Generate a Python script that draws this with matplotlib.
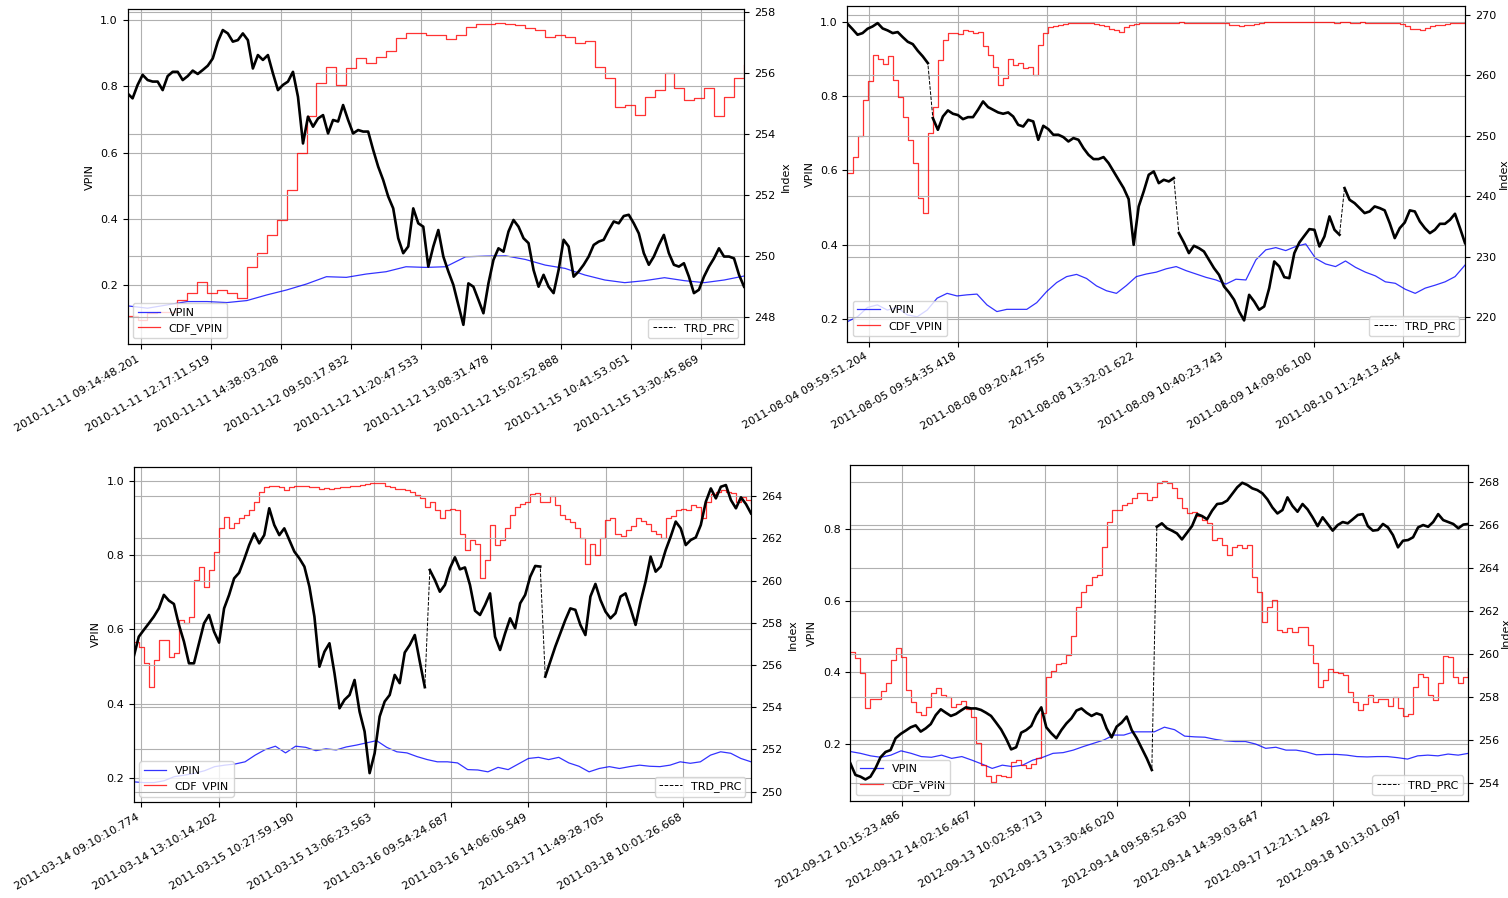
import numpy as np
import matplotlib.pyplot as plt

# ---------------- 2010-11 ----------------
p1_labels = ['2010-11-11 09:14:48.201', '2010-11-11 12:17:11.519', '2010-11-11 14:38:03.208',
             '2010-11-12 09:50:17.832', '2010-11-12 11:20:47.533', '2010-11-12 13:08:31.478',
             '2010-11-12 15:02:52.888', '2010-11-15 10:41:53.051', '2010-11-15 13:30:45.869']
p1_vpin = [0.138, 0.131, 0.141, 0.151, 0.151, 0.148, 0.154, 0.171, 0.186, 0.204, 0.226, 0.224,
           0.234, 0.241, 0.256, 0.254, 0.256, 0.286, 0.288, 0.289, 0.278, 0.261, 0.251, 0.231,
           0.216, 0.208, 0.214, 0.223, 0.214, 0.208, 0.216, 0.228]
p1_cdf = [0.106, 0.095, 0.116, 0.121, 0.121, 0.156, 0.176, 0.211, 0.176, 0.186, 0.176, 0.161,
          0.256, 0.296, 0.352, 0.397, 0.487, 0.598, 0.709, 0.809, 0.859, 0.804, 0.854, 0.884,
          0.869, 0.889, 0.905, 0.945, 0.960, 0.960, 0.955, 0.955,
          0.942, 0.955, 0.978, 0.987, 0.988, 0.990, 0.989, 0.986, 0.976, 0.970, 0.950, 0.955,
          0.950, 0.930, 0.938, 0.859, 0.824, 0.739, 0.744, 0.714, 0.769, 0.789, 0.839, 0.794,
          0.759, 0.764, 0.794, 0.709, 0.769, 0.824, 0.864]
p1_prc = [255.34, 255.18, 255.62, 255.95, 255.78, 255.73, 255.73, 255.45, 255.91, 256.05,
          256.05, 255.78, 255.91, 256.09, 255.98, 256.11, 256.25, 256.49, 257.04, 257.42,
          257.31, 257.04, 257.09, 257.31, 257.09, 256.16, 256.60, 256.44, 256.60, 256.00,
          255.45, 255.62, 255.73, 256.05, 255.23, 253.70, 254.58, 254.25, 254.52, 254.63,
          254.03, 254.47, 254.42, 254.96, 254.47, 254.03, 254.14, 254.09, 254.09, 253.49,
          252.94, 252.50, 251.96, 251.57, 250.59, 250.10, 250.32, 251.57, 251.08, 250.97,
          249.66, 250.32, 250.86,
          249.99, 249.50, 249.06, 248.40, 247.75, 249.11, 249.00, 248.57, 248.13, 249.11,
          249.88, 250.26, 250.15, 250.81, 251.19, 250.97, 250.59, 250.43, 249.55, 249.00,
          249.39, 249.00, 248.79, 249.55, 250.54, 250.32, 249.33, 249.50, 249.72, 249.99,
          250.37, 250.48, 250.54, 250.86, 251.14, 251.08, 251.32, 251.36, 251.08, 250.75,
          250.10, 249.72, 249.99, 250.37, 250.70, 250.10, 249.72, 249.66, 249.77, 249.33,
          248.79, 248.90, 249.33, 249.66, 249.93, 250.26, 249.99, 249.99, 249.93, 249.39,
          249.00]
p1_gaps = []

# ---------------- 2011-08 ----------------
p2_labels = ['2011-08-04 09:59:51.204', '2011-08-05 09:54:35.418', '2011-08-08 09:20:42.755',
             '2011-08-08 13:32:01.622', '2011-08-09 10:40:23.743', '2011-08-09 14:09:06.100',
             '2011-08-10 11:24:13.454']
p2_vpin = [0.193, 0.206, 0.231, 0.238, 0.224, 0.231, 0.211, 0.206, 0.224, 0.256, 0.269, 0.262,
           0.265, 0.267, 0.238, 0.220, 0.226, 0.226, 0.226, 0.244, 0.274, 0.298, 0.314, 0.320,
           0.309, 0.289, 0.276, 0.269, 0.290, 0.314, 0.321,
           0.326, 0.335, 0.341, 0.330, 0.321, 0.312, 0.305, 0.294, 0.307, 0.305, 0.359, 0.386,
           0.392, 0.384, 0.395, 0.402, 0.363, 0.348, 0.341, 0.356, 0.339, 0.326, 0.316, 0.300,
           0.296, 0.280, 0.269, 0.283, 0.291, 0.300, 0.314, 0.345]
p2_cdf = [0.592, 0.637, 0.691, 0.789, 0.839, 0.910, 0.899, 0.886, 0.906, 0.843,
          0.798, 0.744, 0.682, 0.619, 0.525, 0.484, 0.700, 0.771, 0.897, 0.951,
          0.969, 0.970, 0.966, 0.976, 0.975, 0.970, 0.972, 0.933, 0.910, 0.879,
          0.830, 0.848, 0.899, 0.883, 0.888, 0.874, 0.877, 0.857, 0.937, 0.970,
          0.985, 0.988, 0.992, 0.994, 0.996, 0.996, 0.997, 0.997, 0.996, 0.994,
          0.990, 0.987, 0.981, 0.976, 0.973, 0.985, 0.990, 0.994, 0.996, 0.996,
          0.996,
          0.996, 0.997, 0.997, 0.996, 0.997, 0.998, 0.997, 0.996, 0.997, 0.997, 0.996, 0.995,
          0.996, 0.997, 0.996, 0.991, 0.990, 0.989, 0.990, 0.991, 0.993,
          0.997, 0.998, 0.999, 0.999, 0.999, 0.998, 0.999, 0.999, 0.999, 0.998, 0.998, 0.999,
          0.999, 0.998, 0.998, 0.997, 0.998, 0.998, 0.997, 0.997, 0.998, 0.997, 0.996, 0.997,
          0.996, 0.995, 0.996, 0.995, 0.993,
          0.987, 0.981, 0.979, 0.978, 0.982, 0.988, 0.990, 0.992, 0.994, 0.996, 0.997, 0.997,
          1.000]
p2_prc = [268.51, 267.63, 266.70, 266.97, 267.69, 268.07, 268.62, 267.74, 267.41, 266.97,
          267.14, 266.31, 265.54, 265.15, 264.05, 263.12, 262.02, 252.93, 251.00, 253.20,
          254.20, 253.65, 253.43, 252.76, 253.09, 253.09, 254.31, 255.68, 254.75, 254.31,
          253.87, 253.65, 253.87, 253.20, 251.82, 251.54, 252.65, 252.38, 249.35, 251.66,
          251.11, 250.18, 250.18, 249.79, 249.07, 249.63, 249.35, 247.97, 246.87, 246.16,
          246.16, 246.49, 245.50, 244.12, 242.74, 241.37, 239.55, 232.00, 238.34, 240.82,
          243.57,
          244.12, 242.19, 242.74, 242.47, 243.02, 233.93, 232.39, 230.63, 231.84, 231.45,
          230.90, 229.52, 228.15, 227.05, 225.12, 224.13, 222.92, 220.99, 219.51, 223.74,
          222.64, 221.27, 221.82, 224.85, 229.25, 228.43, 226.66, 226.49, 230.63, 232.39,
          233.49, 234.59, 234.48, 231.73, 233.38, 236.69, 234.48, 233.66, 241.37, 239.44,
          238.89, 238.07, 237.24, 237.51, 238.34, 238.07, 237.69, 235.58, 233.11, 234.76,
          235.69, 237.69, 237.51, 235.86, 234.76, 233.93, 234.48, 235.47, 235.47, 236.13,
          237.13, 234.76, 232.28]
p2_gaps = [16, 65, 98]

# ---------------- 2011-03 ----------------
p3_labels = ['2011-03-14 09:10:10.774', '2011-03-14 13:10:14.202', '2011-03-15 10:27:59.190',
             '2011-03-15 13:06:23.563', '2011-03-16 09:54:24.687', '2011-03-16 14:06:06.549',
             '2011-03-17 11:49:28.705', '2011-03-18 10:01:26.668']
p3_vpin = [0.189, 0.187, 0.187, 0.192, 0.203, 0.207, 0.212, 0.219, 0.230, 0.234, 0.237, 0.243,
           0.261, 0.276, 0.285, 0.267, 0.285, 0.282, 0.273, 0.278, 0.275, 0.283, 0.288, 0.294,
           0.300, 0.282, 0.270, 0.267, 0.257, 0.249, 0.243,
           0.243, 0.240, 0.222, 0.221, 0.216, 0.228, 0.222, 0.237, 0.252, 0.255, 0.249, 0.255,
           0.240, 0.231, 0.216, 0.225, 0.230, 0.225, 0.230, 0.234, 0.231, 0.230, 0.234, 0.243,
           0.239, 0.243, 0.261, 0.270, 0.266, 0.252, 0.243]
p3_cdf = [0.566, 0.553, 0.508, 0.445, 0.517, 0.571, 0.571, 0.526, 0.535, 0.625,
          0.616, 0.634, 0.732, 0.768, 0.714, 0.759, 0.809, 0.872, 0.903, 0.872,
          0.885, 0.899, 0.908, 0.921, 0.943, 0.970, 0.982, 0.986, 0.987, 0.982,
          0.975, 0.982, 0.986, 0.987, 0.986, 0.984, 0.982, 0.979, 0.980, 0.978,
          0.980, 0.984, 0.984, 0.987, 0.987, 0.989, 0.991, 0.993, 0.995, 0.993,
          0.986, 0.982, 0.978, 0.977, 0.975, 0.969, 0.961, 0.955, 0.930, 0.943,
          0.921, 0.899,
          0.921, 0.925, 0.921, 0.858, 0.813, 0.840, 0.831, 0.737, 0.786, 0.881,
          0.827, 0.840, 0.872, 0.908, 0.930, 0.937, 0.943, 0.964, 0.966, 0.943,
          0.943, 0.959, 0.934, 0.908, 0.896, 0.890, 0.872, 0.845, 0.777, 0.831,
          0.800, 0.845, 0.894, 0.901, 0.858, 0.851, 0.867, 0.878, 0.901, 0.892,
          0.883, 0.865, 0.856, 0.845, 0.899, 0.905, 0.921, 0.925, 0.921, 0.934,
          0.930, 0.899, 0.943, 0.964, 0.969, 0.975, 0.971, 0.966, 0.943, 0.957,
          0.948, 0.939]
p3_prc = [256.40, 257.34, 257.66, 257.97, 258.29, 258.68, 259.32, 259.05, 258.89, 257.90,
          257.11, 256.08, 256.08, 257.03, 257.97, 258.37, 257.58, 257.06, 258.68, 259.32,
          260.10, 260.37, 261.00, 261.68, 262.23, 261.76, 262.15, 263.42, 262.63, 262.15,
          262.47, 261.92, 261.37, 261.05, 260.66, 259.71, 258.29, 255.92, 256.63, 257.03,
          255.61, 253.95, 254.35, 254.58, 255.29, 253.79, 252.85, 250.88, 251.82, 253.56,
          254.27, 254.58, 255.53, 255.14, 256.59, 256.95, 257.42, 256.16, 254.95, 260.50,
          260.03, 259.47,
          259.79, 260.58, 261.10, 260.53, 260.62, 259.79, 258.57, 258.37, 258.84, 259.39,
          257.34, 256.71, 257.50, 258.21, 257.74, 258.92, 259.32, 260.18, 260.69, 260.66,
          255.45, 256.16, 256.87, 257.50, 258.13, 258.68, 258.61, 257.90, 257.42, 259.24,
          259.84, 259.08, 258.53, 258.21, 258.45, 259.24, 259.39, 258.68, 257.90, 259.00,
          259.95, 261.13, 260.42, 260.66, 261.44, 262.08, 262.79, 262.47, 261.68, 261.92,
          262.04, 262.63, 263.73, 264.36, 263.89, 264.44, 264.52, 263.81, 263.42, 263.94,
          263.62, 263.18]
p3_gaps = [58, 81]

# ---------------- 2012-09 ----------------
p4_labels = ['2012-09-12 10:15:23.486', '2012-09-12 14:02:16.467', '2012-09-13 10:02:58.713',
             '2012-09-13 13:30:46.020', '2012-09-14 09:58:52.630', '2012-09-14 14:39:03.647',
             '2012-09-17 12:21:11.492', '2012-09-18 10:13:01.097']
p4_vpin = [0.179, 0.174, 0.167, 0.163, 0.169, 0.181, 0.174, 0.165, 0.163, 0.169, 0.160, 0.165,
           0.155, 0.144, 0.132, 0.141, 0.137, 0.141, 0.155, 0.163, 0.174, 0.176, 0.183, 0.193,
           0.202, 0.211, 0.225, 0.225, 0.234, 0.234,
           0.234, 0.247, 0.240, 0.222, 0.220, 0.219, 0.213, 0.209, 0.207, 0.207, 0.200, 0.188,
           0.191, 0.183, 0.183, 0.178, 0.170, 0.171, 0.171, 0.169, 0.165, 0.164, 0.165, 0.165,
           0.162, 0.158, 0.167, 0.169, 0.167, 0.172, 0.169, 0.174]
p4_cdf = [0.458, 0.439, 0.397, 0.300, 0.327, 0.325, 0.349, 0.371, 0.434, 0.467,
          0.444, 0.351, 0.318, 0.290, 0.281, 0.304, 0.341, 0.355, 0.337, 0.330,
          0.304, 0.313, 0.321, 0.297, 0.276, 0.202, 0.141, 0.111, 0.095, 0.114,
          0.111, 0.107, 0.151, 0.155, 0.141, 0.132, 0.144, 0.160, 0.286, 0.388,
          0.405, 0.423, 0.427, 0.448, 0.500, 0.583, 0.625, 0.644, 0.667, 0.672,
          0.751, 0.820, 0.853, 0.853, 0.867, 0.873, 0.886, 0.900, 0.900, 0.881,
          0.890, 0.927, 0.935, 0.929, 0.913, 0.886, 0.858, 0.844, 0.846, 0.836,
          0.825, 0.816, 0.769, 0.774, 0.755, 0.727, 0.749, 0.755, 0.746, 0.755,
          0.667, 0.625, 0.541, 0.583, 0.602, 0.518, 0.513, 0.523, 0.513, 0.527,
          0.527, 0.476, 0.425, 0.360, 0.379, 0.408, 0.402, 0.399, 0.393, 0.346,
          0.318, 0.295, 0.313, 0.337, 0.318, 0.327, 0.325, 0.306, 0.332, 0.300,
          0.278, 0.284, 0.360, 0.395, 0.386, 0.337, 0.323, 0.369, 0.446, 0.444,
          0.388, 0.369, 0.388, 0.411]
p4_prc = [254.90, 254.36, 254.28, 254.15, 254.28, 254.67, 255.18, 255.43, 255.52, 256.07,
          256.27, 256.42, 256.58, 256.67, 256.38, 256.53, 256.73, 257.15, 257.42, 257.26,
          257.11, 257.20, 257.36, 257.51, 257.46, 257.46, 257.39, 257.26, 257.11, 256.80,
          256.48, 256.05, 255.55, 255.65, 256.33, 256.45, 256.64, 257.15, 257.51, 256.58,
          256.30, 256.07, 256.45, 256.76, 257.00, 257.36, 257.46, 257.26, 257.11, 257.23,
          257.15, 256.53, 256.11, 256.61, 256.80, 257.08, 256.45, 256.07, 255.60, 255.13,
          254.59, 265.93, 266.09, 265.86, 265.75, 265.62, 265.34, 265.65, 265.96, 266.52,
          266.43, 266.28, 266.68, 266.99, 267.02, 267.15, 267.46, 267.77, 267.98, 267.88,
          267.72, 267.64, 267.49, 267.21, 266.83, 266.55, 266.71, 267.30, 266.90, 266.63,
          266.99, 266.74, 266.37, 265.96, 266.37, 266.06, 265.75, 266.01, 266.15, 266.09,
          266.28, 266.48, 266.52, 265.96, 265.75, 265.78, 266.06, 265.90, 265.54, 264.97,
          265.28, 265.31, 265.44, 265.90, 266.01, 265.93, 266.15, 266.52, 266.24, 266.15,
          266.06, 265.86, 266.03, 266.06]
p4_gaps = [60]


def broken(x, y, gaps):
    # NaN after each session break so the solid trace does not bridge it
    xs, ys = np.asarray(x, float), np.asarray(y, float)
    for g in sorted(gaps, reverse=True):
        xs = np.insert(xs, g + 1, np.nan)
        ys = np.insert(ys, g + 1, np.nan)
    return xs, ys


def draw_panel(fig, rect, vpin, cdf, prc, gaps, labels, tick0, tick_step,
               ylim_l, ylim_r, yticks_l, yticks_r, pad_r=4.0):
    fs = 8
    ax = fig.add_axes(rect)
    ax.plot(np.linspace(0, 1, len(vpin)), vpin, color='blue', lw=0.9, alpha=0.8, label='VPIN')
    ax.plot(np.linspace(0, 1, len(cdf)), cdf, color='red', lw=0.9, alpha=0.8,
            drawstyle='steps-post', label='CDF_VPIN')
    ax.set_xlim(0, 1)
    ax.set_ylim(*ylim_l)
    ax.set_yticks(yticks_l)
    ax.set_ylabel('VPIN', fontsize=fs)
    ax.grid(True, color='#b0b0b0', lw=0.8)
    ax.legend(loc='lower left', fontsize=fs)

    ax2 = ax.twinx()
    x = np.linspace(0, 1, len(prc))
    ax2.plot(x, prc, color='black', ls='--', lw=0.7, label='TRD_PRC')
    xs, ys = broken(x, prc, gaps)
    ax2.plot(xs, ys, color='black', lw=1.9)
    ax2.set_ylim(*ylim_r)
    ax2.set_yticks(yticks_r)
    ax2.set_ylabel('Index', fontsize=fs, labelpad=pad_r)
    ax2.grid(True, color='#b0b0b0', lw=0.8)
    ax2.legend(loc='lower right', fontsize=fs)

    ticks = [tick0 + i * tick_step for i in range(len(labels))]
    ax.set_xticks(ticks)
    ax.set_xticklabels(labels, rotation=30, ha='right', fontsize=fs)
    ax.tick_params(axis='y', labelsize=fs)
    ax2.tick_params(axis='y', labelsize=fs)
    return ax, ax2


fig = plt.figure(figsize=(15.08, 8.98), dpi=100)

draw_panel(fig, [0.0846, 0.6169, 0.4088, 0.3727], p1_vpin, p1_cdf, p1_prc, p1_gaps, p1_labels,
           0.0225, 0.1135, (0.023, 1.032), (247.12, 258.10),
           [0.2, 0.4, 0.6, 0.8, 1.0], [248, 250, 252, 254, 256, 258])
draw_panel(fig, [0.5620, 0.6195, 0.4095, 0.3735], p2_vpin, p2_cdf, p2_prc, p2_gaps, p2_labels,
           0.0355, 0.1440, (0.139, 1.041), (216.0, 271.4),
           [0.2, 0.4, 0.6, 0.8, 1.0], [220, 230, 240, 250, 260, 270], pad_r=2.0)
draw_panel(fig, [0.0887, 0.1066, 0.4093, 0.3737], p3_vpin, p3_cdf, p3_prc, p3_gaps, p3_labels,
           0.0120, 0.1255, (0.134, 1.038), (249.5, 265.39),
           [0.2, 0.4, 0.6, 0.8, 1.0], [250, 252, 254, 256, 258, 260, 262, 264])
draw_panel(fig, [0.5639, 0.1084, 0.4098, 0.3738], p4_vpin, p4_cdf, p4_prc, p4_gaps, p4_labels,
           0.0832, 0.1162, (0.042, 0.9785), (253.16, 268.81),
           [0.2, 0.4, 0.6, 0.8], [254, 256, 258, 260, 262, 264, 266, 268], pad_r=1.0)

fig.savefig('out.png', dpi=100)
